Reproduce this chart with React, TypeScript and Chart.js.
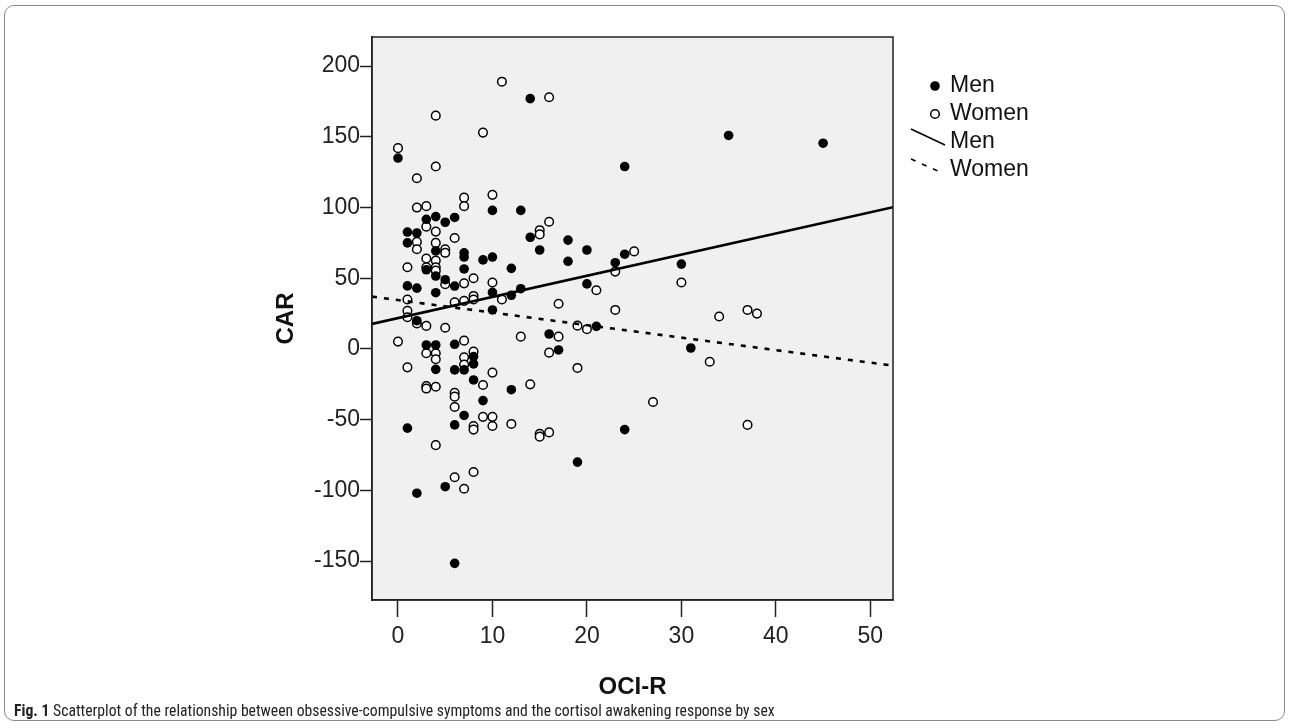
import React, { useEffect, useRef } from "react";
import { Chart, registerables } from "chart.js";

Chart.register(...registerables);

// ---- Data ----
const menOCI = [0, 14, 24, 35, 45, 10, 13, 14, 18, 15, 18, 20, 24, 23, 30, 9, 10, 12, 10, 12, 13, 10, 20, 21, 16, 17, 12, 9, 24, 19, 31, 3, 4, 5, 6, 1, 2, 1, 4, 7, 7, 3, 7, 4, 5, 1, 2, 4, 6, 2, 3, 4, 6, 8, 8, 6, 7, 4, 8, 7, 1, 6, 5, 2, 6];
const menCAR = [135, 177, 129, 151, 145.5, 98, 98, 79, 77, 70, 62, 70, 67, 61, 60, 63, 65, 57, 40, 38, 42.6, 27.6, 46, 16, 10.6, -0.7, -28.8, -36.5, -57, -80, 0.7, 91.7, 93.6, 89.6, 93, 82.7, 82, 75, 69.3, 68, 65, 56, 56.6, 51.6, 49, 44.6, 43, 39.8, 44.5, 20, 2.8, 2.8, 3.3, -5.4, -10.6, -14.8, -14.8, -14.4, -21.9, -47, -56, -53.7, -97.4, -102, -151.6];

const womenOCI = [4, 9, 0, 4, 2, 11, 16, 10, 16, 15, 15, 25, 23, 30, 10, 11, 17, 21, 23, 19, 20, 13, 17, 16, 19, 10, 9, 14, 27, 9, 10, 10, 12, 15, 15, 16, 34, 37, 38, 33, 37, 2, 3, 7, 7, 3, 4, 6, 2, 2, 4, 5, 5, 3, 4, 1, 3, 4, 4, 5, 7, 8, 1, 8, 8, 6, 7, 1, 1, 3, 5, 0, 7, 3, 4, 4, 8, 7, 7, 1, 3, 4, 3, 6, 6, 6, 8, 8, 4, 8, 6, 7, 2];
const womenCAR = [165, 153, 142, 129, 120.7, 189, 178, 109, 90, 84, 81, 69, 54.7, 47, 47, 35, 32, 41.5, 27.6, 16.5, 14, 8.7, 8.7, -2.6, -13.4, -16.7, -25.5, -25, -37.5, -48, -48, -54.5, -53, -60, -62, -59, 23, 27.6, 25, -9, -53.7, 100, 101, 107, 101, 86.5, 83, 78.5, 75.7, 70.5, 75, 70.5, 68, 64, 62.5, 57.8, 57.8, 57.8, 55.4, 45.8, 46.4, 50, 35, 37.5, 35, 33, 34, 27, 22.4, 16.3, 15, 5.2, 5.9, -3, -3, -7.3, -1.9, -5.9, -11, -13, -26.2, -26.7, -28, -31, -33.7, -41, -54.5, -57, -68, -87, -90.7, -98.8, 18];

// Fit lines (end points at the axis limits)
const fitOCI = [-2.75, 52.4];
const menFitCAR = [17.7, 100.2];
const womenFitCAR = [37, -11.8];

const xTicks = [0, 10, 20, 30, 40, 50];
const yTicks = [-150, -100, -50, 0, 50, 100, 150, 200];
const seriesLabels = ["Men", "Women", "Men", "Women"];
const xTitle = "OCI-R";
const yTitle = "CAR";

const toPoints = (xs: number[], ys: number[]) => xs.map((x, i) => ({ x, y: ys[i] }));

const plotBoxPlugin = {
  id: "plotBox",
  beforeDraw(chart: any) {
    const { ctx, chartArea: a } = chart;
    ctx.save();
    ctx.fillStyle = "#f0f0f0";
    ctx.fillRect(a.left, a.top, a.right - a.left, a.bottom - a.top);
    ctx.restore();
  },
  afterDraw(chart: any) {
    const { ctx, chartArea: a } = chart;
    ctx.save();
    ctx.strokeStyle = "#222";
    ctx.lineWidth = 1.5;
    ctx.strokeRect(a.left, a.top, a.right - a.left, a.bottom - a.top);
    ctx.restore();
  },
};

const legendPlugin = {
  id: "spssLegend",
  afterDraw(chart: any) {
    const { ctx } = chart;
    const ds = chart.data.datasets;
    const textX = 950;
    const rows = [86, 114, 142, 170];
    ctx.save();
    ctx.font = "23px 'Liberation Sans', Arial, sans-serif";
    ctx.fillStyle = "#111";
    ctx.textBaseline = "middle";
    ctx.textAlign = "left";
    ds.forEach((d: any, i: number) => {
      const y = rows[i];
      ctx.save();
      if (i === 0) {
        ctx.beginPath();
        ctx.arc(935, y, 4.8, 0, Math.PI * 2);
        ctx.fillStyle = "#000";
        ctx.fill();
      } else if (i === 1) {
        ctx.beginPath();
        ctx.arc(935, y, 4.3, 0, Math.PI * 2);
        ctx.fillStyle = "#fff";
        ctx.fill();
        ctx.lineWidth = 1.5;
        ctx.strokeStyle = "#000";
        ctx.stroke();
      } else if (i === 2) {
        ctx.beginPath();
        ctx.lineWidth = 1.6;
        ctx.strokeStyle = "#000";
        ctx.moveTo(911, y - 13);
        ctx.lineTo(945, y + 3);
        ctx.stroke();
      } else {
        ctx.beginPath();
        ctx.setLineDash(d.borderDash || []);
        ctx.lineWidth = 1.6;
        ctx.strokeStyle = "#000";
        ctx.moveTo(911, y - 11);
        ctx.lineTo(940, y + 2);
        ctx.stroke();
      }
      ctx.restore();
      ctx.fillText(d.label, textX, y);
    });
    ctx.restore();
  },
};

export default function App() {
  const ref = useRef<HTMLCanvasElement | null>(null);

  useEffect(() => {
    if (!ref.current) return;
    const tickFont = { family: "'Liberation Sans', Arial, sans-serif", size: 23 };
    const titleFont = { family: "'Liberation Sans', Arial, sans-serif", size: 24, weight: "bold" as const };
    const chart = new Chart(ref.current, {
      type: "scatter",
      data: {
        datasets: [
          {
            label: seriesLabels[0],
            data: toPoints(menOCI, menCAR),
            pointRadius: 4.8,
            pointBackgroundColor: "#000",
            pointBorderColor: "#000",
            pointBorderWidth: 0,
            order: 1,
          },
          {
            label: seriesLabels[1],
            data: toPoints(womenOCI, womenCAR),
            pointRadius: 4.3,
            pointBackgroundColor: "#fff",
            pointBorderColor: "#000",
            pointBorderWidth: 1.5,
            order: 2,
          },
          {
            type: "line",
            label: seriesLabels[2],
            data: toPoints(fitOCI, menFitCAR),
            borderColor: "#000",
            borderWidth: 2.6,
            pointRadius: 0,
            fill: false,
            order: 0,
          } as any,
          {
            type: "line",
            label: seriesLabels[3],
            data: toPoints(fitOCI, womenFitCAR),
            borderColor: "#000",
            borderWidth: 2.6,
            borderDash: [5, 7],
            pointRadius: 0,
            fill: false,
            order: 0,
          } as any,
        ],
      },
      options: {
        animation: false,
        responsive: false,
        maintainAspectRatio: false,
        layout: { padding: { left: 272, top: 37, right: 400, bottom: 26 } },
        plugins: {
          legend: { display: false },
          tooltip: { enabled: false },
        },
        scales: {
          x: {
            type: "linear",
            min: fitOCI[0],
            max: fitOCI[1],
            afterBuildTicks: (s: any) => {
              s.ticks = xTicks.map((v) => ({ value: v }));
            },
            afterFit: (s: any) => {
              s.height = 102;
            },
            grid: {
              drawOnChartArea: false,
              drawTicks: true,
              tickLength: 17,
              tickColor: "#222",
              tickWidth: 1.5,
            },
            border: { display: true, color: "#222", width: 1.5 },
            ticks: { font: tickFont, color: "#222", padding: 6, maxRotation: 0 },
            title: { display: true, text: xTitle, font: titleFont, color: "#111", padding: 0 },
          },
          y: {
            type: "linear",
            min: -177.5,
            max: 220.6,
            afterBuildTicks: (s: any) => {
              s.ticks = yTicks.map((v) => ({ value: v }));
            },
            afterFit: (s: any) => {
              s.width = 100;
            },
            grid: {
              drawOnChartArea: false,
              drawTicks: true,
              tickLength: 12,
              tickColor: "#222",
              tickWidth: 1.5,
            },
            border: { display: true, color: "#222", width: 1.5 },
            ticks: { font: tickFont, color: "#222", padding: 0 },
            title: { display: true, text: yTitle, font: titleFont, color: "#111", padding: 0 },
          },
        },
      },
      plugins: [plotBoxPlugin, legendPlugin],
    });
    return () => chart.destroy();
  }, []);

  return (
    <div style={{ position: "absolute", left: 0, top: 0, width: 1293, height: 728, background: "#fff", overflow: "hidden" }}>
      <div
        style={{
          position: "absolute",
          left: 4,
          top: 5,
          width: 1281,
          height: 716,
          border: "1.5px solid #8a8a8a",
          borderRadius: 10,
          boxSizing: "border-box",
        }}
      />
      <canvas ref={ref} width={1293} height={728} style={{ position: "absolute", left: 0, top: 0, width: 1293, height: 728 }} />
      <div
        style={{
          position: "absolute",
          left: 14,
          top: 700,
          fontFamily: "'Liberation Sans Narrow', 'Roboto Condensed', 'Liberation Sans', Arial, sans-serif",
          fontSize: 15.7,
          color: "#222",
          whiteSpace: "nowrap",
          lineHeight: "22px",
        }}
      >
        <b>Fig. 1</b> Scatterplot of the relationship between obsessive-compulsive symptoms and the cortisol awakening response by sex
      </div>
    </div>
  );
}
